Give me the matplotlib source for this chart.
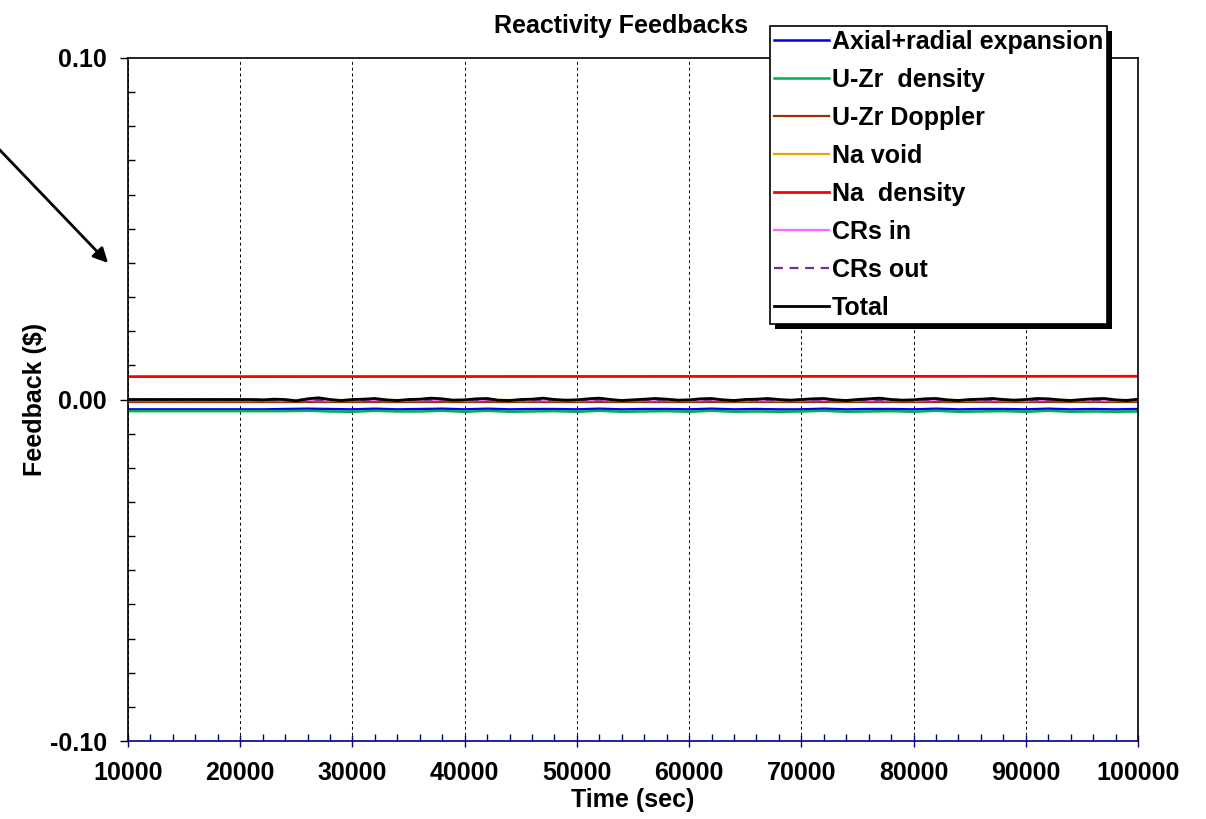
import matplotlib
matplotlib.use("Agg")
import matplotlib.pyplot as plt
from matplotlib.patches import Rectangle
from matplotlib.ticker import MultipleLocator

plt.rcParams['font.family'] = ['Liberation Sans', 'DejaVu Sans']
plt.rcParams['font.weight'] = 'bold'
plt.rcParams['font.size'] = 18

# time grids (sec)
t1 = list(range(10000, 100001, 1000))
t2 = list(range(10000, 100001, 2000))
t_flat = [10000, 100000]

# Total feedback, units of 1e-4 $, 1000 s grid
total = [0, 0, 0, 0, 0, 0, 0, 0, 0, 0, 0,
         0, -1, 1, 0, -4, 2, 5, 0, -3, 0,
         1, 3, -1, -3, 0, 1, 4, 2, -2, -1,
         2, 3, -2, -3, 0, 1, 4, 0, -2, -1,
         2, 4, 0, -3, -1, 1, 3, 1, -2, -1,
         2, 3, -1, -3, 0, 1, 3, 0, -2, 0,
         2, 3, -1, -3, 0, 2, 4, 0, -2, -1,
         2, 3, -1, -3, 0, 1, 3, 0, -2, 0,
         3, 2, -1, -3, 0, 2, 3, -1, -3, 1]

# 2000 s grid series, units of 1e-4 $
axial = [-29, -29, -29, -29, -29, -29, -29, -28, -27, -28,
         -29, -27, -29, -28, -27, -29, -27, -29, -28, -28,
         -29, -27, -29, -28, -28, -29, -27, -29, -28, -29,
         -29, -27, -29, -28, -28, -29, -27, -29, -28, -28,
         -29, -27, -29, -28, -29, -28]
uzr_density = [-34, -34, -34, -34, -34, -34, -34, -34, -33, -35,
               -36, -33, -35, -35, -33, -36, -33, -36, -35, -34,
               -36, -33, -36, -35, -34, -36, -33, -36, -35, -36,
               -35, -33, -36, -35, -34, -36, -33, -36, -35, -34,
               -36, -33, -36, -35, -36, -35]
crs_in = [-2, -2, -2, -2, -2, -2, -2, -3, -1, -3,
          -2, -1, -3, -2, -1, -3, -1, -3, -2, -2,
          -3, -1, -3, -2, -2, -3, -1, -3, -2, -3,
          -2, -1, -3, -2, -2, -3, -1, -3, -2, -2,
          -3, -1, -3, -2, -3, -2]
crs_out = [-1, -1, -1, -1, -1, -1, -1, -3, 0, -2,
           -2, 0, -3, -1, 0, -2, 0, -3, -1, -1,
           -2, 0, -3, -1, -1, -2, 0, -3, -1, -2,
           -1, 0, -3, -1, -1, -2, 0, -3, -1, -1,
           -2, 0, -3, -1, -2, -1]

# nearly constant series ($)
uzr_doppler = [-0.0006, -0.0006]
na_void = [0.0, 0.0]
na_density = [0.0067, 0.0068]

fig = plt.figure(figsize=(12.06, 8.19), dpi=100)
ax = fig.add_axes([0.1061, 0.0952, 0.8375, 0.834])

ax.plot(t2, [v * 1e-4 for v in axial], color='#0000EE', lw=1.8, label='Axial+radial expansion')
ax.plot(t2, [v * 1e-4 for v in uzr_density], color='#00B050', lw=1.8, label='U-Zr  density')
ax.plot(t_flat, uzr_doppler, color='#993300', lw=1.6, label='U-Zr Doppler')
ax.plot(t_flat, na_void, color='#E6A800', lw=1.6, label='Na void')
ax.plot(t_flat, na_density, color='#FF0000', lw=2.0, label='Na  density')
ax.plot(t2, [v * 1e-4 for v in crs_in], color='#FF66FF', lw=1.6, label='CRs in')
ax.plot(t2, [v * 1e-4 for v in crs_out], color='#7030A0', lw=1.6, ls=(0, (4, 3)), label='CRs out')
ax.plot(t1, [v * 1e-4 for v in total], color='black', lw=2.0, label='Total')

ax.set_xlim(10000, 100000)
ax.set_ylim(-0.10, 0.10)
ax.set_yticks([-0.10, 0.00, 0.10])
ax.set_yticklabels(['-0.10', '0.00', '0.10'])
ax.xaxis.set_major_locator(MultipleLocator(10000))
ax.xaxis.set_minor_locator(MultipleLocator(2000))
ax.yaxis.set_minor_locator(MultipleLocator(0.01))
ax.tick_params(axis='x', which='major', direction='inout', length=9, color='#000080', width=1, pad=10)
ax.tick_params(axis='x', which='minor', direction='in', length=5, color='#000080', width=1)
ax.tick_params(axis='y', which='major', direction='out', length=6, width=1, pad=9)
ax.tick_params(axis='y', which='minor', direction='in', length=5, width=1)
ax.spines['bottom'].set_color('#000080')
for s in ax.spines.values():
    s.set_linewidth(1.2)
ax.grid(axis='x', which='major', color='black', ls=(0, (3, 3)), lw=0.7)

ax.set_xlabel('Time (sec)', fontweight='bold', labelpad=2)
ax.set_ylabel('Feedback ($)', fontweight='bold', labelpad=2)
fig.text(0.515, 0.968, 'Reactivity Feedbacks', ha='center', va='center', fontweight='bold')

leg = fig.legend(loc='upper left', bbox_to_anchor=(0.6385, 0.968), frameon=True,
                 fancybox=False, framealpha=1, edgecolor='black', handlelength=2.2,
                 handletextpad=0.12, labelspacing=0.56, borderpad=0.15, borderaxespad=0)
leg.get_frame().set_linewidth(1.2)

fig.canvas.draw()
bb = leg.get_window_extent()
fig.patches.append(Rectangle((bb.x0 + 5, bb.y0 - 5), bb.width, bb.height, transform=None,
                             facecolor='black', edgecolor='none', zorder=leg.get_zorder() - 0.1))

fig.add_artist(plt.Annotation('', xy=(110, 819 - 265), xycoords='figure pixels',
                              xytext=(-5, 819 - 145), textcoords='figure pixels',
                              arrowprops=dict(arrowstyle='-|>', color='black', lw=2,
                                              mutation_scale=22)))

fig.savefig('out.png', dpi=100)
